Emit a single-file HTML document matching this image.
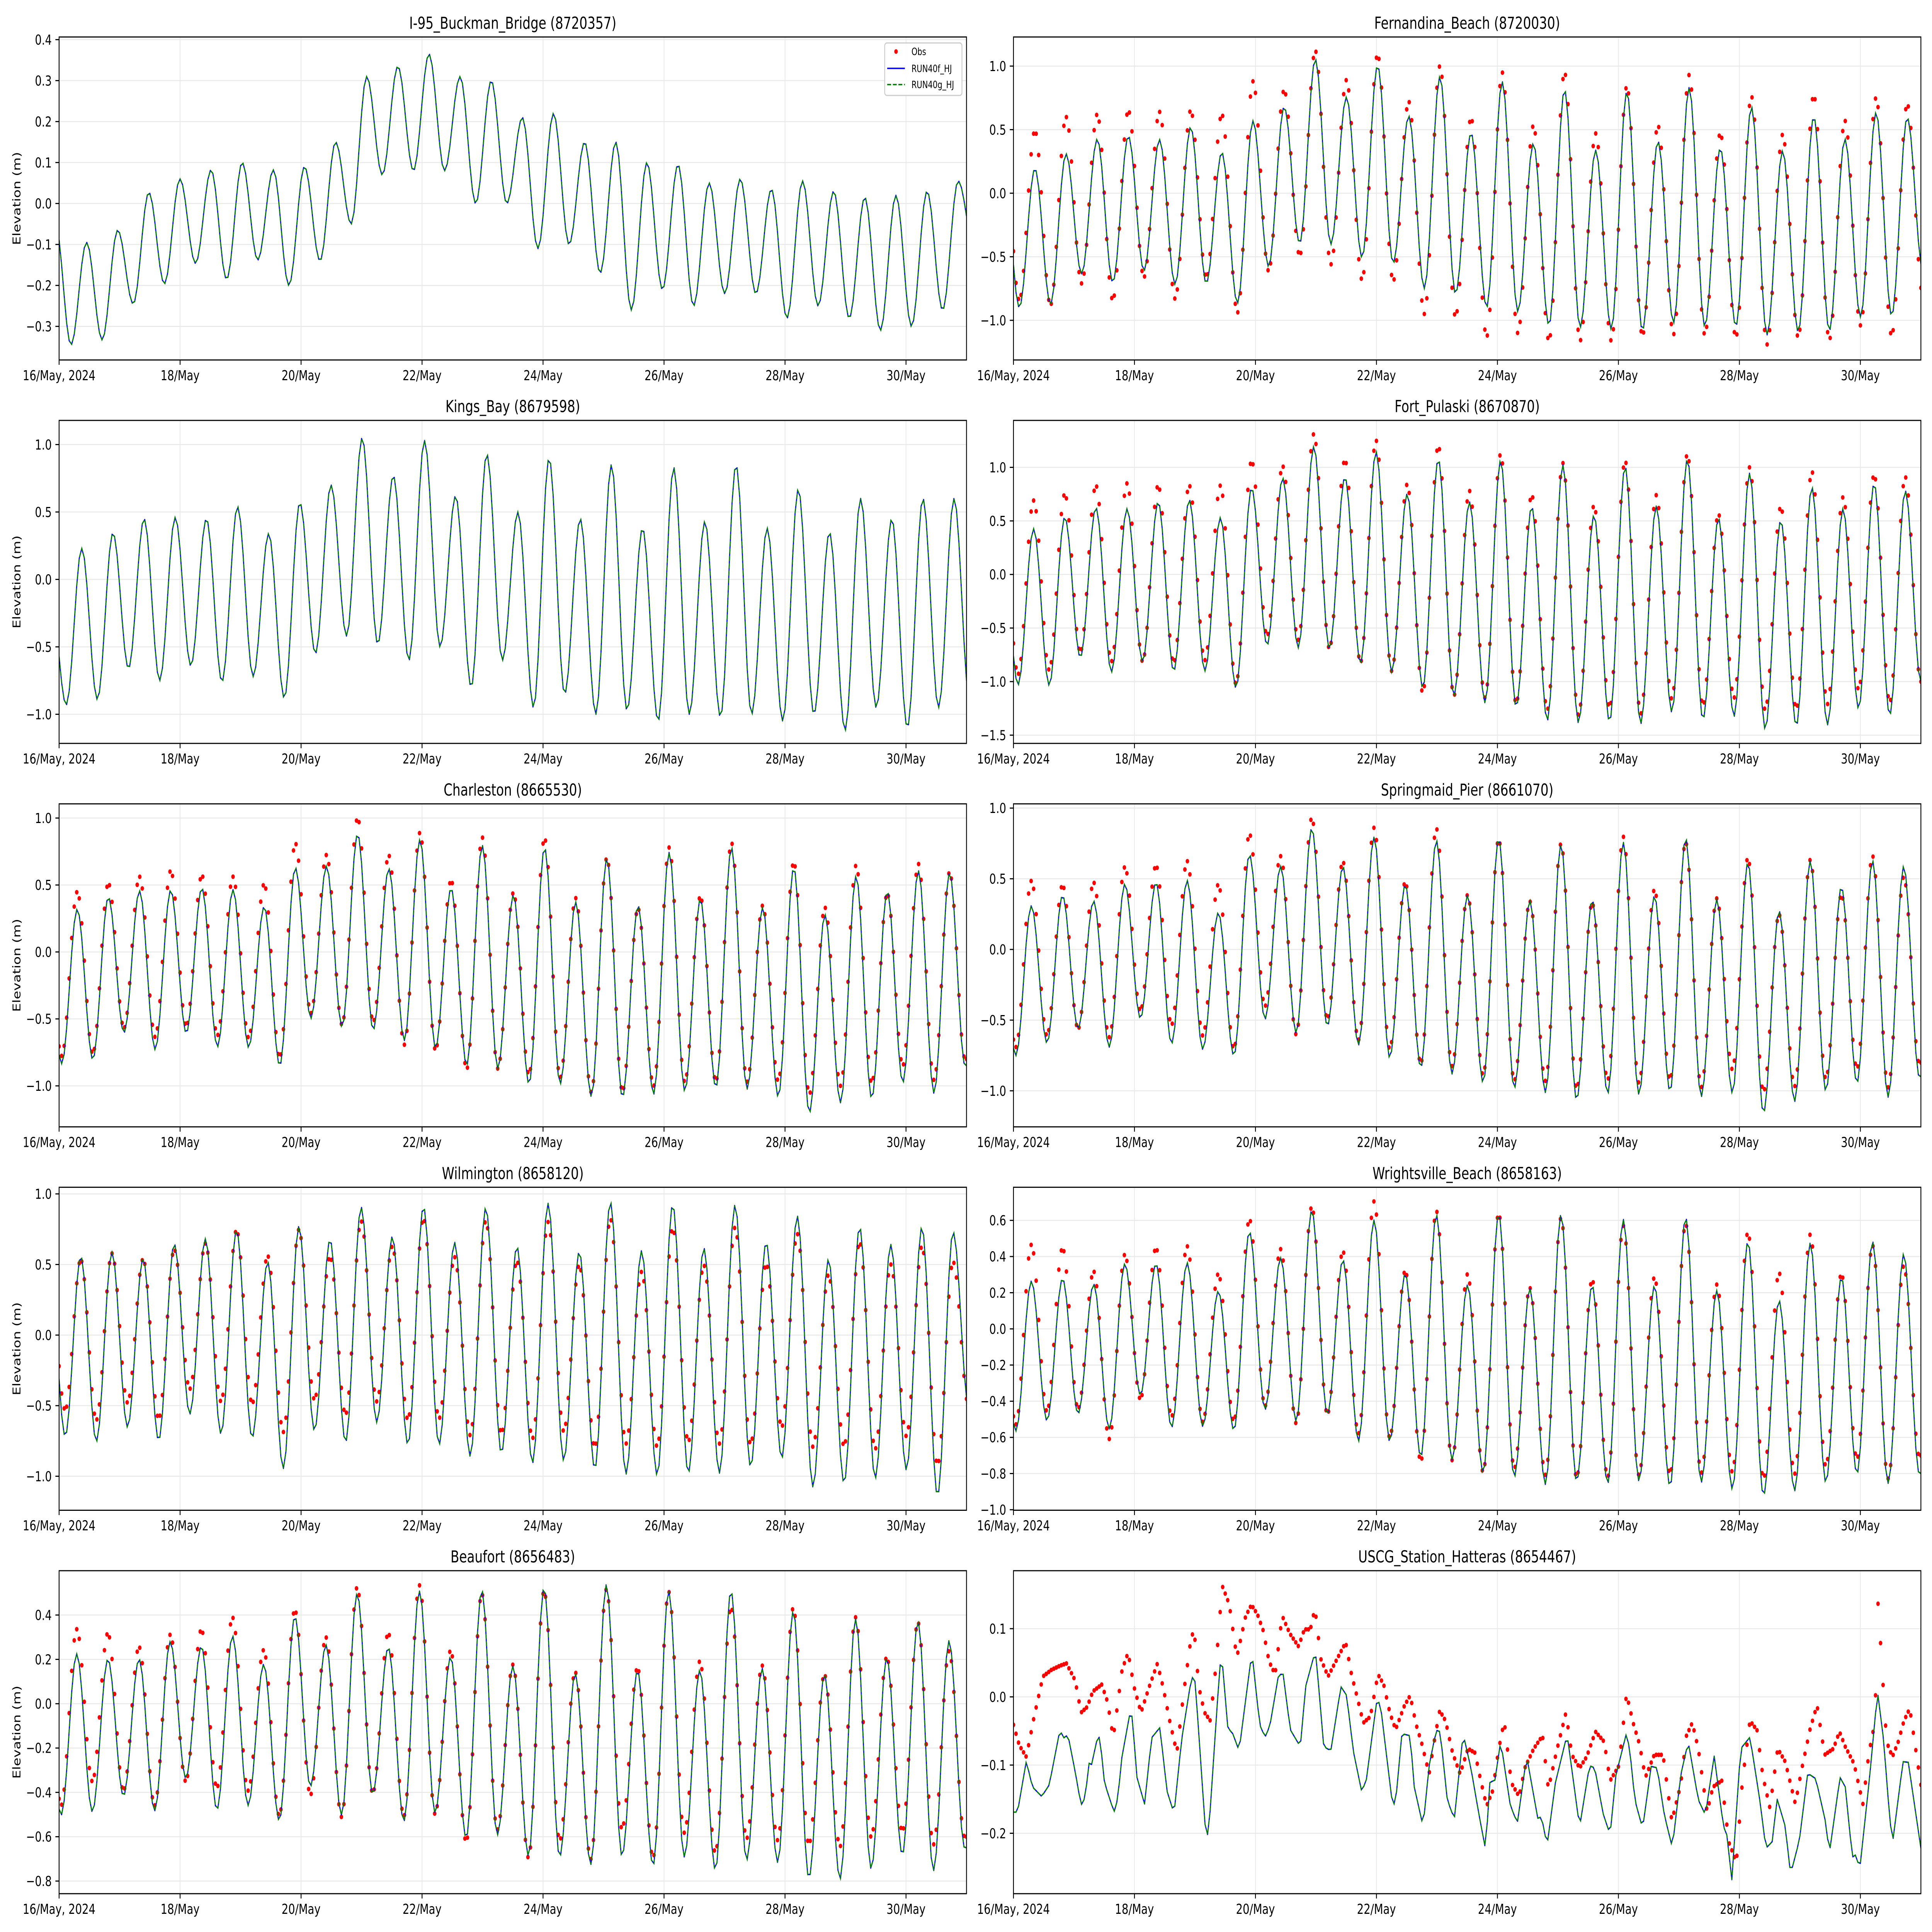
<!DOCTYPE html>
<html><head><meta charset="utf-8">
<meta name="viewport" content="width=7650, initial-scale=1">
<style>
html,body{margin:0;padding:0;background:#fff;overflow:hidden;width:100vw;height:100vh;}
svg{display:block;width:100vw;height:100vh;}
text{font-family:"DejaVu Sans","Liberation Sans",sans-serif;fill:#000;}
</style></head>
<body>
<svg id="fig" xmlns="http://www.w3.org/2000/svg" viewBox="0 0 7650 5850" preserveAspectRatio="none">
<rect x="0" y="0" width="7650" height="5850" fill="#ffffff"/>
</svg>
<script>
// ---------- x axis ----------
const xTickDays = [0, 2, 4, 6, 8, 10, 12, 14];
const xTickLabels = ["16/May, 2024", "18/May", "20/May", "22/May", "24/May", "26/May", "28/May", "30/May"];

// ---------- Buckman ----------
const buckHigh = [-0.05,-0.095,-0.065,0.027,0.06,0.082,0.1,0.082,0.09,0.15,0.31,0.335,0.365,0.31,0.30,0.21,0.22,0.15,0.15,0.10,0.095,0.05,0.06,0.035,0.055,0.03,0.015,0.02,0.03,0.055];
const buckLow = [-0.345,-0.333,-0.245,-0.196,-0.146,-0.185,-0.138,-0.2,-0.14,-0.05,0.07,0.08,0.08,0.0,0.0,-0.11,-0.10,-0.17,-0.26,-0.21,-0.25,-0.22,-0.22,-0.28,-0.25,-0.28,-0.31,-0.30,-0.26,-0.1];
const buckTicks = [-0.3,-0.2,-0.1,0.0,0.1,0.2,0.3,0.4];

// ---------- Fernandina ----------
const ferHigh = [0.18,0.194,0.310,0.426,0.450,0.422,0.520,0.321,0.570,0.679,1.055,0.757,1.005,0.608,0.917,0.474,0.877,0.392,0.815,0.339,0.798,0.409,0.831,0.354,0.679,0.334,0.603,0.427,0.636,0.596];
const ferLow = [-0.899,-0.874,-0.634,-0.700,-0.609,-0.717,-0.709,-0.866,-0.576,-0.394,-0.402,-0.507,-0.551,-0.750,-0.791,-0.899,-0.932,-1.040,-1.057,-1.070,-1.081,-1.020,-1.048,-1.048,-1.114,-1.089,-1.081,-0.974,-0.965,-0.6];
const ferObsHigh = [0.4,0.49,0.60,0.62,0.65,0.64,0.65,0.62,0.88,0.81,1.12,0.89,1.09,0.72,1.00,0.59,0.95,0.53,0.95,0.47,0.84,0.53,0.93,0.47,0.76,0.46,0.77,0.57,0.75,0.70];
const ferObsLow = [-0.84,-0.88,-0.71,-0.84,-0.66,-0.83,-0.66,-0.94,-0.61,-0.49,-0.56,-0.68,-0.69,-0.95,-0.97,-1.13,-1.10,-1.16,-1.16,-1.16,-1.12,-1.11,-1.11,-1.13,-1.19,-1.13,-1.15,-1.04,-1.12,-0.8];
const ferTicks = [-1.0,-0.5,0.0,0.5,1.0];

// ---------- Kings Bay ----------
const kbHigh = [-0.1,0.23,0.345,0.45,0.46,0.45,0.54,0.34,0.57,0.70,1.05,0.77,1.03,0.62,0.93,0.50,0.90,0.45,0.85,0.38,0.83,0.43,0.85,0.38,0.67,0.35,0.60,0.45,0.60,0.60];
const kbLow = [-0.93,-0.89,-0.66,-0.75,-0.64,-0.76,-0.72,-0.88,-0.55,-0.42,-0.48,-0.60,-0.50,-0.80,-0.60,-0.95,-0.85,-1.00,-0.97,-1.05,-1.00,-1.02,-1.00,-1.05,-1.00,-1.12,-0.95,-1.10,-0.95,-0.9];
const kbTicks = [-1.0,-0.5,0.0,0.5,1.0];

// ---------- Fort Pulaski ----------
const fpHigh = [0.3,0.427,0.535,0.624,0.614,0.677,0.697,0.531,0.809,0.900,1.195,0.909,1.146,0.752,1.077,0.677,1.063,0.634,1.024,0.555,1.008,0.638,1.075,0.524,0.945,0.504,0.815,0.614,0.850,0.781];
const fpLow = [-1.030,-1.035,-0.774,-0.911,-0.813,-0.902,-0.902,-1.059,-0.661,-0.685,-0.695,-0.833,-0.911,-1.059,-1.134,-1.197,-1.236,-1.364,-1.384,-1.374,-1.394,-1.285,-1.354,-1.325,-1.443,-1.413,-1.404,-1.252,-1.315,-1.0];
const fpObsHigh = [0.5,0.69,0.75,0.83,0.85,0.83,0.83,0.83,1.06,1.01,1.31,1.07,1.25,0.84,1.20,0.78,1.12,0.74,1.04,0.64,1.06,0.74,1.12,0.56,1.00,0.63,0.96,0.72,0.93,0.91];
const fpObsLow = [-0.93,-0.89,-0.72,-0.81,-0.81,-0.82,-0.80,-1.02,-0.57,-0.61,-0.69,-0.82,-0.90,-1.10,-1.13,-1.15,-1.20,-1.26,-1.31,-1.24,-1.30,-1.16,-1.22,-1.15,-1.26,-1.25,-1.21,-1.07,-1.19,-1.0];
const fpTicks = [-1.5,-1.0,-0.5,0.0,0.5,1.0];

// ---------- Charleston ----------
const chHigh = [0.2,0.320,0.409,0.457,0.461,0.477,0.465,0.339,0.630,0.641,0.882,0.622,0.839,0.477,0.795,0.425,0.780,0.373,0.699,0.346,0.743,0.394,0.780,0.331,0.630,0.279,0.567,0.453,0.606,0.591];
const chLow = [-0.835,-0.803,-0.603,-0.729,-0.606,-0.709,-0.713,-0.850,-0.496,-0.559,-0.583,-0.661,-0.717,-0.846,-0.871,-0.987,-0.987,-1.079,-1.087,-1.063,-1.039,-1.013,-1.024,-1.082,-1.202,-1.126,-1.094,-0.976,-1.055,-0.85];
const chObsHigh = [0.3,0.449,0.512,0.562,0.606,0.572,0.562,0.507,0.811,0.724,1.0,0.72,0.89,0.535,0.855,0.441,0.850,0.402,0.701,0.323,0.78,0.414,0.814,0.346,0.669,0.331,0.646,0.433,0.657,0.594];
const chObsLow = [-0.776,-0.756,-0.567,-0.635,-0.551,-0.622,-0.638,-0.787,-0.457,-0.543,-0.520,-0.693,-0.732,-0.874,-0.871,-0.913,-0.937,-1.047,-1.039,-1.0,-0.969,-0.965,-0.969,-0.961,-1.06,-1.0,-0.976,-0.846,-0.956,-0.8];
const chTicks = [-1.0,-0.5,0.0,0.5,1.0];

// ---------- Springmaid ----------
const spHigh = [0.2,0.309,0.381,0.343,0.463,0.473,0.488,0.260,0.672,0.588,0.857,0.585,0.794,0.458,0.772,0.384,0.787,0.346,0.742,0.349,0.757,0.379,0.787,0.354,0.615,0.272,0.627,0.443,0.627,0.588];
const spLow = [-0.751,-0.661,-0.561,-0.691,-0.487,-0.666,-0.706,-0.751,-0.493,-0.591,-0.542,-0.676,-0.766,-0.836,-0.881,-0.942,-0.982,-1.012,-1.064,-1.019,-1.024,-1.004,-1.042,-1.015,-1.157,-1.075,-1.0,-0.945,-1.045,-0.9];
const spObsHigh = [0.3,0.485,0.454,0.473,0.582,0.593,0.625,0.458,0.816,0.660,0.928,0.618,0.861,0.473,0.854,0.384,0.776,0.339,0.746,0.324,0.797,0.421,0.757,0.361,0.645,0.245,0.633,0.384,0.660,0.510];
const spObsLow = [-0.691,-0.606,-0.561,-0.621,-0.430,-0.531,-0.609,-0.699,-0.400,-0.601,-0.490,-0.639,-0.699,-0.803,-0.825,-0.885,-0.927,-0.930,-0.982,-0.919,-0.942,-0.919,-0.975,-0.848,-1.004,-0.967,-0.910,-0.840,-0.975,-0.8];
const spTicks = [-1.0,-0.5,0.0,0.5,1.0];

// ---------- Wilmington ----------
const wiHigh = [0.5,0.557,0.587,0.542,0.646,0.682,0.742,0.518,0.769,0.676,0.906,0.697,0.910,0.657,0.903,0.627,0.933,0.590,0.943,0.597,0.925,0.616,0.921,0.657,0.843,0.537,0.766,0.642,0.766,0.731];
const wiLow = [-0.716,-0.754,-0.652,-0.746,-0.560,-0.699,-0.728,-0.945,-0.676,-0.758,-0.619,-0.776,-0.776,-0.858,-0.836,-0.906,-0.888,-0.948,-0.985,-0.993,-0.978,-0.978,-0.933,-0.873,-1.075,-1.049,-1.015,-0.955,-1.139,-0.5];
const wiObsHigh = [0.4,0.533,0.578,0.537,0.604,0.649,0.742,0.560,0.746,0.552,0.806,0.627,0.825,0.552,0.806,0.522,0.801,0.493,0.821,0.448,0.754,0.493,0.761,0.500,0.716,0.425,0.657,0.500,0.627,0.518];
const wiObsLow = [-0.530,-0.601,-0.478,-0.590,-0.381,-0.470,-0.485,-0.687,-0.455,-0.560,-0.470,-0.597,-0.590,-0.709,-0.694,-0.731,-0.679,-0.791,-0.769,-0.788,-0.754,-0.769,-0.769,-0.649,-0.791,-0.784,-0.806,-0.716,-0.915,-0.5];
const wiTicks = [-1.0,-0.5,0.0,0.5,1.0];

// ---------- Wrightsville ----------
const wrHigh = [0.2,0.264,0.278,0.247,0.360,0.360,0.366,0.209,0.538,0.393,0.655,0.381,0.602,0.305,0.631,0.243,0.637,0.224,0.631,0.241,0.605,0.239,0.616,0.212,0.483,0.157,0.474,0.285,0.482,0.414];
const wrLow = [-0.565,-0.507,-0.469,-0.553,-0.365,-0.545,-0.539,-0.560,-0.446,-0.510,-0.475,-0.621,-0.621,-0.708,-0.726,-0.796,-0.819,-0.860,-0.842,-0.854,-0.840,-0.871,-0.848,-0.886,-0.921,-0.895,-0.848,-0.801,-0.854,-0.8];
const wrObsHigh = [0.3,0.465,0.446,0.317,0.410,0.447,0.457,0.303,0.605,0.441,0.674,0.427,0.705,0.320,0.651,0.302,0.637,0.226,0.612,0.270,0.570,0.284,0.579,0.245,0.532,0.309,0.521,0.302,0.460,0.346];
const wrObsLow = [-0.528,-0.455,-0.440,-0.609,-0.388,-0.483,-0.514,-0.508,-0.426,-0.522,-0.470,-0.578,-0.598,-0.731,-0.726,-0.790,-0.770,-0.807,-0.819,-0.817,-0.807,-0.801,-0.796,-0.790,-0.825,-0.801,-0.755,-0.716,-0.828,-0.7];
const wrTicks = [-1.0,-0.8,-0.6,-0.4,-0.2,0.0,0.2,0.4,0.6];

// ---------- Beaufort ----------
const bfHigh = [0.1,0.225,0.201,0.201,0.280,0.259,0.306,0.178,0.394,0.265,0.496,0.254,0.508,0.211,0.512,0.170,0.524,0.135,0.537,0.149,0.510,0.151,0.510,0.159,0.417,0.132,0.382,0.206,0.371,0.284];
const bfLow = [-0.502,-0.487,-0.416,-0.483,-0.335,-0.478,-0.459,-0.527,-0.373,-0.502,-0.407,-0.530,-0.492,-0.606,-0.592,-0.687,-0.691,-0.725,-0.687,-0.730,-0.691,-0.749,-0.706,-0.716,-0.787,-0.791,-0.744,-0.682,-0.753,-0.65];
const bfObsHigh = [0.2,0.336,0.318,0.256,0.311,0.334,0.389,0.242,0.423,0.299,0.524,0.318,0.534,0.239,0.496,0.176,0.508,0.142,0.515,0.161,0.505,0.191,0.436,0.172,0.431,0.130,0.390,0.209,0.366,0.237];
const bfObsLow = [-0.457,-0.350,-0.391,-0.459,-0.350,-0.378,-0.392,-0.503,-0.411,-0.511,-0.402,-0.506,-0.497,-0.622,-0.568,-0.695,-0.616,-0.701,-0.563,-0.692,-0.582,-0.670,-0.608,-0.616,-0.633,-0.644,-0.601,-0.575,-0.635,-0.6];
const bfTicks = [-0.8,-0.6,-0.4,-0.2,0.0,0.2,0.4];

// ---------- Hatteras (hours since 16 May 00:00, values m) ----------
const hatModelHours = [0,1.6,5.1,7.5,11.2,14.2,18.4,20.3,21.5,24.5,26.8,28.4,30.3,31.0,33.3,34.3,36.1,39.9,41.5,42.7,46.2,47.1,49.0,52.0,54.8,58.1,60.9,63.7,66.7,70.7,72.1,76.3,77.4,81.9,83.0,85.1,86.7,89.5,94.2,94.9,97.7,99.8,101.7,105.2,107.0,109.8,113.8,115.9,119.2,120.1,123.1,125.9,129.9,132.2,134.8,138.1,139.9,144.1,145.5,150.4,151.6,154.1,157.4,159.0,162.5,164.9,167.7,169.3,172.1,174.9,178.4,181.5,184.7,187.3,189.1,190.8,193.3,197.1,199.9,203.6,208.2,209.4,211.7,215.0,219.2,219.9,224.6,228.5,230.6,233.9,236.7,239.0,243.0,244.4,246.5,249.6,253.0,255.4,258.2,261.4,264.7,267.7,271.7,274.5,278.0,281.7,282.9,285.0,288.5,292.2,296.2,298.5,301.1,302.9,306.2,308.3,311.8,315.1,318.3,322.1,323.7,327.9,330.0,332.8,334.0,335.8,339.6,342.8,345.2,347.3,348.7,352.9,355.0,360.0];
const hatModelVals = [-0.169,-0.169,-0.094,-0.132,-0.146,-0.129,-0.049,-0.062,-0.054,-0.110,-0.159,-0.148,-0.088,-0.099,-0.060,-0.059,-0.126,-0.169,-0.148,-0.095,-0.024,-0.029,-0.118,-0.157,-0.060,-0.045,-0.138,-0.171,-0.063,0.030,0.022,-0.203,-0.201,0.047,0.044,-0.048,-0.051,-0.079,0.055,0.055,-0.041,-0.059,-0.043,0.033,0.033,-0.048,-0.073,0.015,0.060,0.058,-0.073,-0.079,0.015,0.002,-0.079,-0.138,-0.124,-0.007,-0.009,-0.159,-0.155,-0.054,-0.057,-0.132,-0.190,-0.101,-0.049,-0.051,-0.151,-0.179,-0.054,-0.105,-0.173,-0.224,-0.120,-0.127,-0.065,-0.159,-0.185,-0.087,-0.182,-0.174,-0.218,-0.126,-0.062,-0.062,-0.191,-0.101,-0.104,-0.171,-0.202,-0.115,-0.056,-0.073,-0.151,-0.193,-0.102,-0.104,-0.173,-0.221,-0.115,-0.066,-0.151,-0.173,-0.087,-0.191,-0.199,-0.268,-0.076,-0.059,-0.154,-0.222,-0.212,-0.149,-0.190,-0.260,-0.210,-0.112,-0.120,-0.182,-0.229,-0.118,-0.132,-0.235,-0.232,-0.251,-0.120,0.008,-0.063,-0.163,-0.216,-0.095,-0.096,-0.222];
const hatObsHours = [0,2.3,5.1,8.2,11.7,15.2,18.7,21.0,24.5,26.8,29.2,31.5,35.0,37.3,39.6,43.1,45.5,47.8,50.6,53.6,57.1,59.5,61.8,64.8,67.6,70.0,71.6,73.5,75.8,78.1,80.5,82.8,85.6,88.6,92.1,94.4,96.8,99.1,101.4,103.8,106.6,109.6,113.1,115.4,117.8,119.6,122.0,124.8,128.3,131.8,134.1,136.4,138.8,141.6,144.6,146.9,149.3,151.6,155.1,157.4,159.7,162.1,164.9,166.7,169.1,171.4,174.2,177.2,180.3,183.1,185.4,187.7,190.1,192.4,194.7,197.5,200.6,202.9,206.4,209.9,212.2,215.7,219.2,221.5,224.6,227.4,230.9,234.4,236.7,240.2,243.2,246.0,248.4,250.7,254.2,257.7,261.2,264.7,267.0,269.3,271.7,275.2,277.5,281.0,283.8,286.8,289.2,292.2,295.0,297.3,300.1,303.2,306.2,310.2,312.5,316.0,318.8,321.8,325.3,327.7,330.0,333.5,337.0,339.4,341.7,343.1,344.1,346.4,348.7,351.0,353.3,355.6,360.0];
const hatObsVals = [-0.041,-0.071,-0.088,-0.029,0.030,0.040,0.046,0.049,0.024,-0.023,-0.015,0.008,0.018,-0.007,-0.060,0.040,0.065,0.015,-0.023,0.012,0.049,0.012,-0.032,-0.082,0.008,0.074,0.102,0.015,-0.023,-0.035,0.052,0.163,0.136,0.058,0.118,0.135,0.121,0.097,0.052,0.033,0.119,0.093,0.074,0.099,0.099,0.130,0.055,0.030,0.055,0.080,0.033,-0.001,-0.038,-0.029,0.033,0.018,-0.023,-0.048,-0.013,0.002,-0.040,-0.070,-0.113,-0.070,-0.020,-0.035,-0.082,-0.113,-0.076,-0.082,-0.123,-0.160,-0.138,-0.079,-0.035,-0.126,-0.146,-0.104,-0.076,-0.057,-0.135,-0.076,-0.023,-0.085,-0.104,-0.088,-0.051,-0.066,-0.123,-0.101,0.004,-0.040,-0.070,-0.118,-0.085,-0.085,-0.182,-0.129,-0.057,-0.038,-0.076,-0.169,-0.132,-0.123,-0.213,-0.243,-0.123,-0.035,-0.049,-0.116,-0.163,-0.076,-0.095,-0.157,-0.110,-0.048,-0.012,-0.085,-0.076,-0.051,-0.073,-0.098,-0.157,-0.082,-0.038,0.150,0.071,-0.066,-0.088,-0.066,-0.035,-0.017,-0.129];
const hatTicks = [-0.2,-0.1,0.0,0.1];

// ---------- layout ----------
const SVGNS = "http://www.w3.org/2000/svg";
const svg = document.getElementById("fig");
const COLX = [234, 4013];
const AXW = 3593, AXH = 978, ROW0 = 112, ROWSTEP = 1161;
const HOURS = 360;

const panels = [
  {name:"buckman", title:"I-95_Buckman_Bridge (8720357)", col:0, row:0, ylim:[-0.382,0.4065], ticks:buckTicks, kind:"tide", t0:10.9, P:12.35, H:buckHigh, L:buckLow, oH:null, oL:null, legend:true},
  {name:"fernandina", title:"Fernandina_Beach (8720030)", col:1, row:0, ylim:[-1.312,1.229], ticks:ferTicks, kind:"tide", t0:8.5, P:12.36, H:ferHigh, L:ferLow, oH:ferObsHigh, oL:ferObsLow},
  {name:"kings-bay", title:"Kings_Bay (8679598)", col:0, row:1, ylim:[-1.216,1.179], ticks:kbTicks, kind:"tide", t0:9.0, P:12.36, H:kbHigh, L:kbLow, oH:null, oL:null},
  {name:"fort-pulaski", title:"Fort_Pulaski (8670870)", col:1, row:1, ylim:[-1.577,1.438], ticks:fpTicks, kind:"tide", t0:8.0, P:12.35, H:fpHigh, L:fpLow, oH:fpObsHigh, oL:fpObsLow},
  {name:"charleston", title:"Charleston (8665530)", col:0, row:2, ylim:[-1.306,1.106], ticks:chTicks, kind:"tide", t0:7.2, P:12.36, H:chHigh, L:chLow, oH:chObsHigh, oL:chObsLow},
  {name:"springmaid", title:"Springmaid_Pier (8661070)", col:1, row:2, ylim:[-1.255,1.030], ticks:spTicks, kind:"tide", t0:7.1, P:12.36, H:spHigh, L:spLow, oH:spObsHigh, oL:spObsLow},
  {name:"wilmington", title:"Wilmington (8658120)", col:0, row:3, ylim:[-1.241,1.047], ticks:wiTicks, kind:"tide", t0:8.6, P:12.36, H:wiHigh, L:wiLow, oH:wiObsHigh, oL:wiObsLow},
  {name:"wrightsville", title:"Wrightsville_Beach (8658163)", col:1, row:3, ylim:[-1.003,0.783], ticks:wrTicks, kind:"tide", t0:7.1, P:12.36, H:wrHigh, L:wrLow, oH:wrObsHigh, oL:wrObsLow},
  {name:"beaufort", title:"Beaufort (8656483)", col:0, row:4, ylim:[-0.857,0.600], ticks:bfTicks, kind:"tide", t0:7.0, P:12.36, H:bfHigh, L:bfLow, oH:bfObsHigh, oL:bfObsLow},
  {name:"hatteras", title:"USCG_Station_Hatteras (8654467)", col:1, row:4, ylim:[-0.2886,0.185], ticks:hatTicks, kind:"knots", mT:hatModelHours, mV:hatModelVals, oT:hatObsHours, oV:hatObsVals}
];

function el(tag, attrs, parent) {
  const e = document.createElementNS(SVGNS, tag);
  for (const k in attrs) e.setAttribute(k, attrs[k]);
  (parent || svg).appendChild(e);
  return e;
}
function tideAt(t, t0, P, H, L) {
  const h = P / 2;
  const start = t0 - P;
  let n = Math.floor((t - start) / h);
  if (n < 0) n = 0;
  if (n > 58) n = 58;
  let f = (t - (start + n * h)) / h;
  f = Math.max(0, Math.min(1, f));
  const va = (n % 2 === 0) ? H[n / 2] : L[(n - 1) / 2];
  const m = n + 1;
  const vb = (m % 2 === 0) ? H[m / 2] : L[(m - 1) / 2];
  return va + (vb - va) * (1 - Math.cos(Math.PI * f)) / 2;
}
function knotAt(t, T, V) {
  if (t <= T[0]) return V[0];
  for (let i = 1; i < T.length; i++) {
    if (t <= T[i]) {
      const f = (t - T[i - 1]) / (T[i] - T[i - 1]);
      return V[i - 1] + (V[i] - V[i - 1]) * f;
    }
  }
  return V[V.length - 1];
}
function fmt(v) { return v.toFixed(1).replace("-", "\u2212"); }

panels.forEach((p, idx) => {
  const x0 = COLX[p.col], y0 = ROW0 + p.row * ROWSTEP;
  const xs = t => x0 + (t / HOURS) * AXW;
  const ys = v => y0 + (p.ylim[1] - v) / (p.ylim[1] - p.ylim[0]) * AXH;

  const g = el("g", {});
  
  

  const cp = el("clipPath", {id: "clip" + idx}, g);
  el("rect", {x: x0, y: y0, width: AXW, height: AXH}, cp);

  const grid = el("g", {stroke: "#e9e9e9", "stroke-width": 3}, g);
  
  
  xTickDays.forEach(d => {
    el("line", {x1: xs(d * 24), x2: xs(d * 24), y1: y0, y2: y0 + AXH}, grid);
  });
  p.ticks.forEach(v => {
    el("line", {x1: x0, x2: x0 + AXW, y1: ys(v), y2: ys(v)}, grid);
  });

  const plot = el("g", {"clip-path": "url(#clip" + idx + ")"}, g);

  if ((p.kind === "tide" && p.oH) || p.kind === "knots") {
    const og = el("g", {fill: "#ff0000"}, plot);
    
    
    for (let t = 0; t <= HOURS; t++) {
      const v = p.kind === "tide" ? tideAt(t, p.t0, p.P, p.oH, p.oL) : knotAt(t, p.oT, p.oV);
      const c = el("circle", {cx: xs(t).toFixed(1), cy: ys(v).toFixed(1), r: 7}, og);
      
      
    }
  }

  let pts = [];
  for (let t = 0; t <= HOURS; t++) {
    const v = p.kind === "tide" ? tideAt(t, p.t0, p.P, p.H, p.L) : knotAt(t, p.mT, p.mV);
    pts.push(xs(t).toFixed(1) + "," + ys(v).toFixed(1));
  }
  const d = "M" + pts.join("L");
  const l1 = el("path", {d: d, fill: "none", stroke: "#0000ff", "stroke-width": 4.2, "stroke-linejoin": "round"}, plot);
  
  
  const l2 = el("path", {d: d, fill: "none", stroke: "#008000", "stroke-width": 4.2, "stroke-dasharray": "15.5,6.7"}, plot);
  
  

  const sp = el("rect", {x: x0, y: y0, width: AXW, height: AXH, fill: "none", stroke: "#000", "stroke-width": 3.4}, g);
  
  

  const xa = el("g", {}, g);
  
  
  xTickDays.forEach((dd, i) => {
    const x = xs(dd * 24);
    el("line", {x1: x, x2: x, y1: y0 + AXH, y2: y0 + AXH + 14.6, stroke: "#000", "stroke-width": 3.4}, xa);
    const tx = el("text", {x: x, y: y0 + AXH + 61, "font-size": 42, "text-anchor": "middle"}, xa);
    tx.textContent = xTickLabels[i];
    
    
  });

  const ya = el("g", {}, g);
  
  
  p.ticks.forEach(v => {
    const y = ys(v);
    el("line", {x1: x0 - 14.6, x2: x0, y1: y, y2: y, stroke: "#000", "stroke-width": 3.4}, ya);
    const tx = el("text", {x: x0 - 29, y: y + 15, "font-size": 42, "text-anchor": "end"}, ya);
    tx.textContent = fmt(v);
    
    
  });

  if (p.col === 0) {
    const yl = el("text", {x: 0, y: 0, "font-size": 42, "text-anchor": "middle", transform: "translate(80," + (y0 + AXH / 2) + ") rotate(-90)"}, g);
    yl.textContent = "Elevation (m)";
    
    
  }

  const tt = el("text", {x: x0 + AXW / 2, y: y0 - 25, "font-size": 50, "text-anchor": "middle"}, g);
  tt.textContent = p.title;
  
  

  if (p.legend) {
    const lg = el("g", {}, g);
    
    
    el("rect", {x: 3503, y: 130, width: 306, height: 159, rx: 9, fill: "#ffffff", "fill-opacity": 0.85, stroke: "#cccccc", "stroke-width": 3.5}, lg);
    el("circle", {cx: 3548, cy: 156, r: 7, fill: "#ff0000"}, lg);
    el("line", {x1: 3513, x2: 3583, y1: 207, y2: 207, stroke: "#0000ff", "stroke-width": 4.2}, lg);
    el("line", {x1: 3513, x2: 3583, y1: 256, y2: 256, stroke: "#008000", "stroke-width": 4.2, "stroke-dasharray": "15.5,6.7"}, lg);
    const names = ["Obs", "RUN40f_HJ", "RUN40g_HJ"];
    const ly = [156, 207, 256];
    names.forEach((n, i) => {
      const t = el("text", {x: 3609, y: ly[i] + 11, "font-size": 30}, lg);
      t.textContent = n;
      
      
    });
  }
});
</script>
</body></html>
